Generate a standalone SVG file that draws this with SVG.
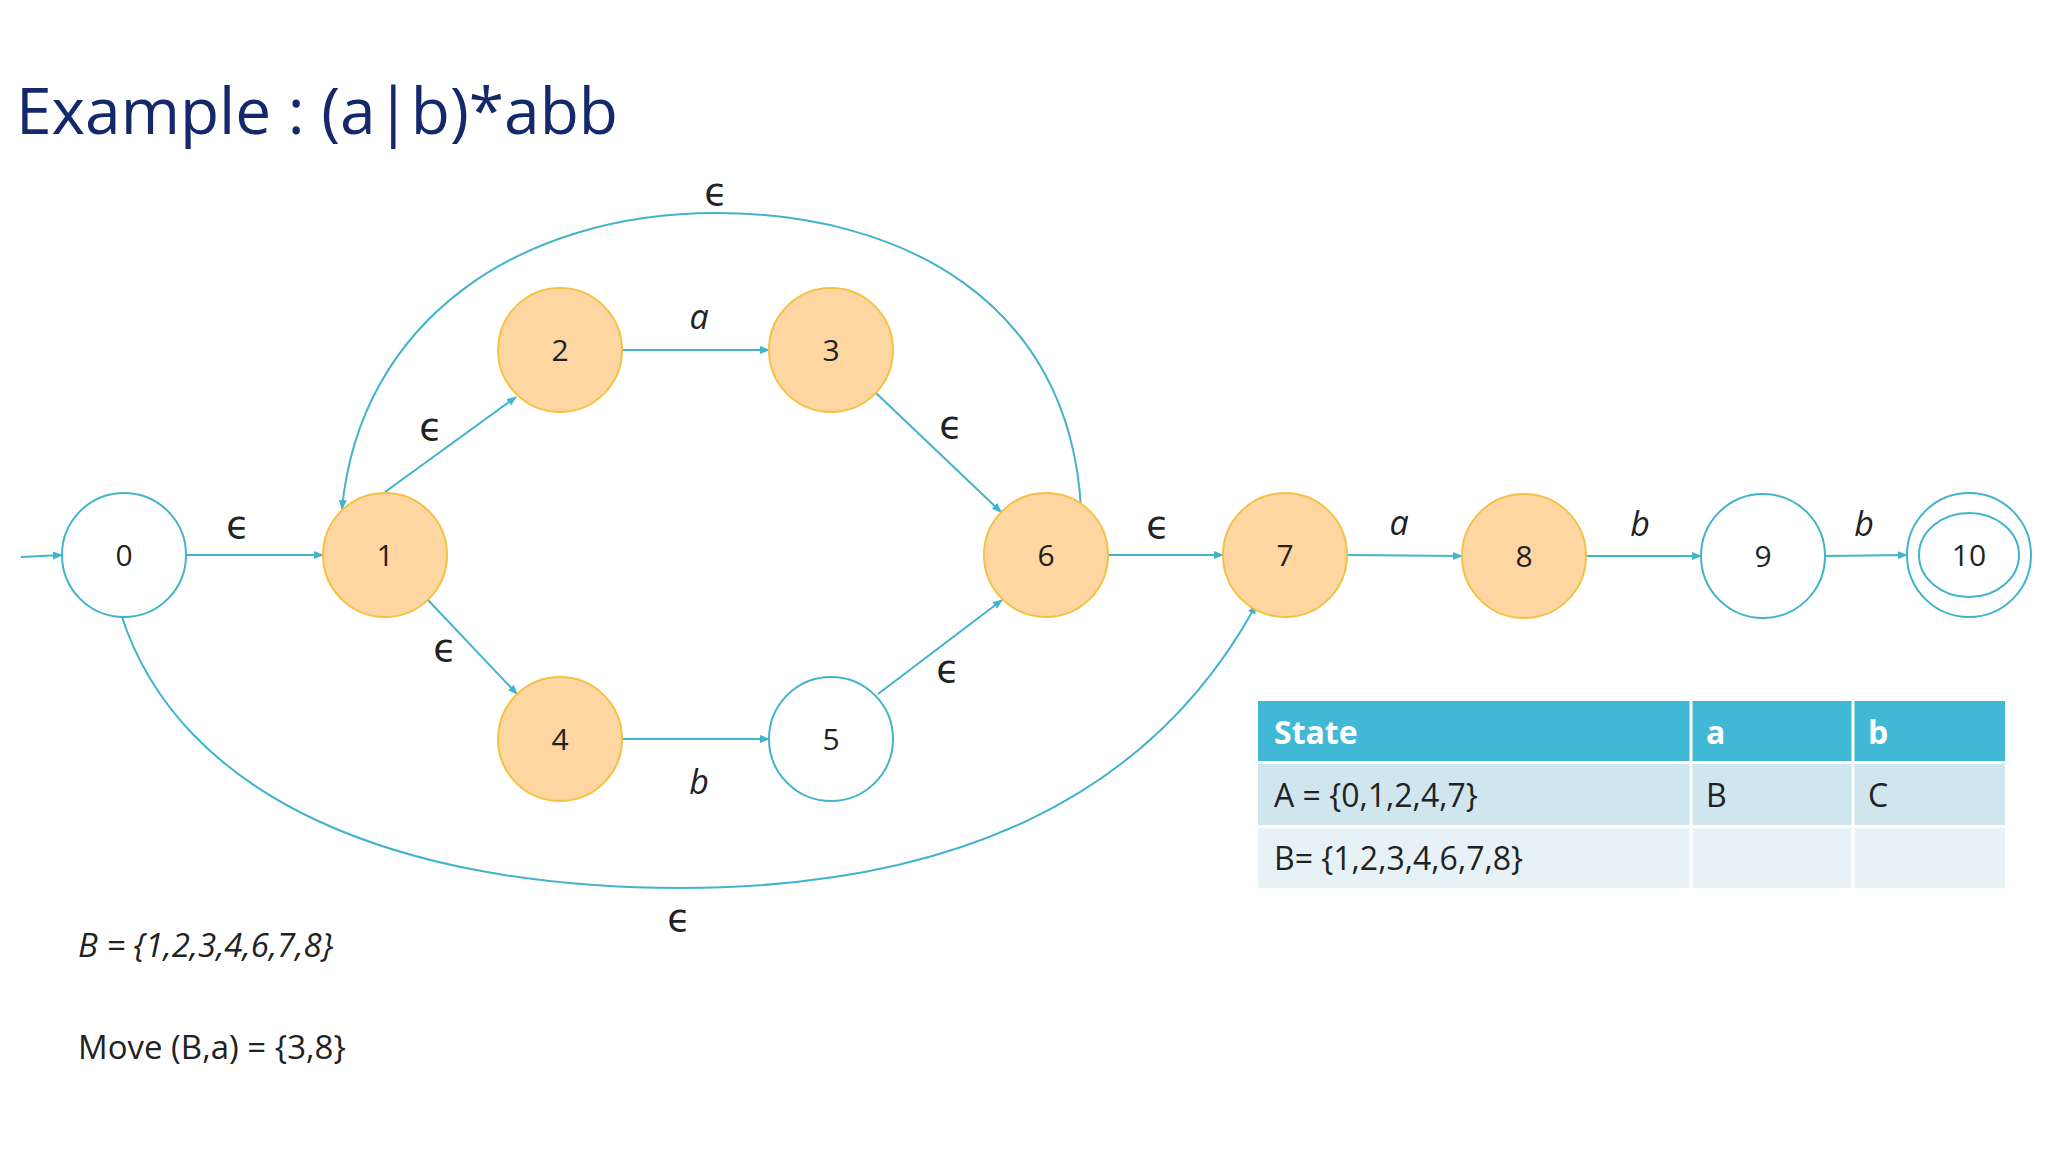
<svg xmlns="http://www.w3.org/2000/svg" width="2048" height="1152" viewBox="0 0 2048 1152">
<style>
.e{stroke:#41b3cc;stroke-width:2;fill:none}
.o circle{fill:#fdd6a2;stroke:#f4c243;stroke-width:2}
.w circle{fill:#fff;stroke:#41b3cc;stroke-width:2}
.n{font-family:"Open Sans",Lato,sans-serif;font-size:30px;fill:#222;text-anchor:middle}
.l{font-family:"Open Sans",Lato,sans-serif;font-style:italic;font-size:34px;fill:#222;text-anchor:middle}
.p{font-family:"DejaVu Sans",sans-serif;font-size:38px;fill:#222;text-anchor:middle}
.t{font-family:"Open Sans",Lato,sans-serif;font-size:32px;fill:#222}
.h{font-family:"Open Sans",Lato,sans-serif;font-size:32px;font-weight:bold;fill:#fff}
</style>
<defs><marker id="a" markerWidth="10" markerHeight="10" refX="9" refY="5" orient="auto" markerUnits="userSpaceOnUse"><path d="M0,1 L10,5 L0,9 z" fill="#41b3cc"/></marker></defs>
<rect width="2048" height="1152" fill="#fff"/>
<text x="16" y="134" font-family="'Open Sans',Lato,sans-serif" font-size="64" fill="#13296b">Example : (a|b)*abb</text>
<g id="connectors" marker-end="url(#a)">
<path class="e" d="M21,557 L62,555"/>
<path class="e" d="M186,555 L323,555"/>
<path class="e" d="M385,492 L516,397"/>
<path class="e" d="M622,350 L769,350"/>
<path class="e" d="M876,393 L1001,512"/>
<path class="e" d="M428,600 L517,694"/>
<path class="e" d="M622,739 L769,739"/>
<path class="e" d="M878,694 L1002,600"/>
<path class="e" d="M1108,555 L1223,555"/>
<path class="e" d="M1347,555 L1462,556"/>
<path class="e" d="M1586,556 L1701,556"/>
<path class="e" d="M1825,556 L1907,555"/>
<path class="e" d="M1081,509 C1070,300 900,213 716,213 C520,213 360,320 342,509"/>
<path class="e" d="M121,614 C180,800 400,888 680,888 C950,888 1150,800 1256,605"/>
</g>
<g id="n0" class="w"><circle cx="124" cy="555" r="62"/><text class="n" x="124" y="566">0</text></g>
<g id="n1" class="o"><circle cx="385" cy="555" r="62"/><text class="n" x="385" y="566">1</text></g>
<g id="n2" class="o"><circle cx="560" cy="350" r="62"/><text class="n" x="560" y="361">2</text></g>
<g id="n3" class="o"><circle cx="831" cy="350" r="62"/><text class="n" x="831" y="361">3</text></g>
<g id="n4" class="o"><circle cx="560" cy="739" r="62"/><text class="n" x="560" y="750">4</text></g>
<g id="n5" class="w"><circle cx="831" cy="739" r="62"/><text class="n" x="831" y="750">5</text></g>
<g id="n6" class="o"><circle cx="1046" cy="555" r="62"/><text class="n" x="1046" y="566">6</text></g>
<g id="n7" class="o"><circle cx="1285" cy="555" r="62"/><text class="n" x="1285" y="566">7</text></g>
<g id="n8" class="o"><circle cx="1524" cy="556" r="62"/><text class="n" x="1524" y="567">8</text></g>
<g id="n9" class="w"><circle cx="1763" cy="556" r="62"/><text class="n" x="1763" y="567">9</text></g>
<g id="n10" class="w"><circle cx="1969" cy="555" r="62"/><ellipse cx="1969" cy="555" rx="50" ry="42" fill="none" stroke="#41b3cc" stroke-width="2"/><text class="n" x="1969" y="566">10</text></g>
<g id="labels">
<text class="p" x="238" y="538">ϵ</text>
<text class="p" x="716" y="205">ϵ</text>
<text class="p" x="431" y="440">ϵ</text>
<text class="l" x="699" y="329">a</text>
<text class="p" x="951" y="438">ϵ</text>
<text class="p" x="445" y="661">ϵ</text>
<text class="l" x="699" y="794">b</text>
<text class="p" x="948" y="682">ϵ</text>
<text class="p" x="1158" y="538">ϵ</text>
<text class="l" x="1399" y="535">a</text>
<text class="l" x="1640" y="536">b</text>
<text class="l" x="1864" y="536">b</text>
<text class="p" x="679" y="931">ϵ</text>
</g>
<g id="table">
<rect x="1258" y="701" width="747" height="60" fill="#41b8d5"/>
<rect x="1258" y="764" width="747" height="61" fill="#cfe6ef"/>
<rect x="1258" y="828" width="747" height="60" fill="#e6f2f6"/>
<path d="M1691,701 V888 M1853,701 V888" stroke="#fff" stroke-width="3"/>
<text class="h" x="1274" y="744">State</text>
<text class="h" x="1706" y="744">a</text>
<text class="h" x="1868" y="744">b</text>
<text class="t" x="1274" y="807">A = {0,1,2,4,7}</text>
<text class="t" x="1706" y="807">B</text>
<text class="t" x="1868" y="807">C</text>
<text class="t" x="1274" y="870">B= {1,2,3,4,6,7,8}</text>
</g>
<text x="78" y="957" font-family="'Open Sans',Lato,sans-serif" font-style="italic" font-size="33" fill="#222">B = {1,2,3,4,6,7,8}</text>
<text x="78" y="1059" font-family="'Open Sans',Lato,sans-serif" font-size="33" fill="#222">Move (B,a) = {3,8}</text>
</svg>
